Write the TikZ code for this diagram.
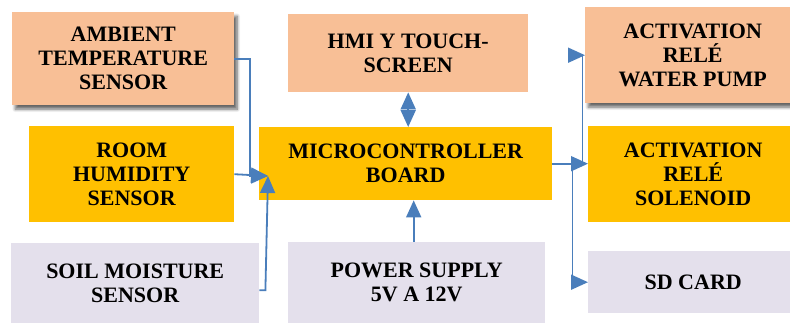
\documentclass[tikz,border=0pt]{standalone}
\usepackage{fontspec}
\setmainfont{Liberation Serif}[BoldFont={Liberation Serif Bold}]
\definecolor{peachBox}{RGB}{248,191,150}
\definecolor{goldBox}{RGB}{255,192,0}
\definecolor{lilacBox}{RGB}{228,224,236}
\definecolor{wireBlue}{RGB}{74,126,187}
\usetikzlibrary{arrows.meta,positioning,shadows.blur}
\begin{document}
\begin{tikzpicture}[x=1pt, y=-1pt,
  box/.style={anchor=north west, inner sep=0pt, align=center,
              font=\rmfamily\bfseries\fontsize{22}{24}\selectfont},
  soft/.style={blur shadow={shadow xshift=3pt, shadow yshift=-4pt,
               shadow blur steps=8, shadow blur radius=3pt, shadow opacity=60}},
  wire/.style={-{Triangle[length=17pt,width=15pt]}, line width=1.8pt, wireBlue},
  twoway/.style={wire, {Triangle[length=17pt,width=15pt]}-{Triangle[length=17pt,width=15pt]}}
]
  \useasboundingbox (0,0) rectangle (790,323);

  \node[box, fill=peachBox, soft, minimum width=222pt, minimum height=93pt] (amb) at (12,12) {AMBIENT\\TEMPERATURE\\SENSOR};
  \node[box, fill=goldBox, minimum width=205pt, minimum height=96pt]  (room) at (29,126) {ROOM\\HUMIDITY\\SENSOR};
  \node[box, fill=lilacBox, minimum width=248pt, minimum height=80pt] (soil) at (11,243) {SOIL MOISTURE\\SENSOR};

  \node[box, fill=peachBox, minimum width=240pt, minimum height=78pt] (hmi) at (288,14) {HMI Y TOUCH-\\SCREEN};
  \node[box, fill=goldBox, minimum width=293pt, minimum height=73pt]  (micro) at (259,127) {MICROCONTROLLER\\BOARD};
  \node[box, fill=lilacBox, minimum width=257pt, minimum height=81pt] (power) at (288,242) {POWER SUPPLY\\5V A 12V};

  \node[box, fill=peachBox, soft, minimum width=215pt, minimum height=96pt] (pump) at (585,7) {ACTIVATION\\RELÉ\\WATER PUMP};
  \node[box, fill=goldBox, minimum width=210pt, minimum height=96pt]  (sol) at (588,126) {ACTIVATION\\RELÉ\\SOLENOID};
  \node[box, fill=lilacBox, minimum width=210pt, minimum height=62pt] (sd) at (588,251) {SD CARD};

  \coordinate (join) at (268,176);

  \draw[wire] (amb.east) -| ([xshift=-18pt]join) -- (join);
  \draw[wire] (room.east) -- (join);
  \draw[wire] ([yshift=-7pt]soil.east) -- ++(6pt,0) -- (join);

  \draw[twoway] (hmi.south) -- (hmi.south |- micro.north);
  \draw[wire] ([xshift=-3pt]power.north) -- ([xshift=-3pt]power.north |- micro.south);

  \draw[wire] (micro.east) -- (micro.east -| sol.west);
  \draw[wire] (micro.east) -- ++(30pt,0) |- (pump.west);
  \draw[wire] (micro.east) -- ++(20pt,0) |- (sd.west);
\end{tikzpicture}
\end{document}
